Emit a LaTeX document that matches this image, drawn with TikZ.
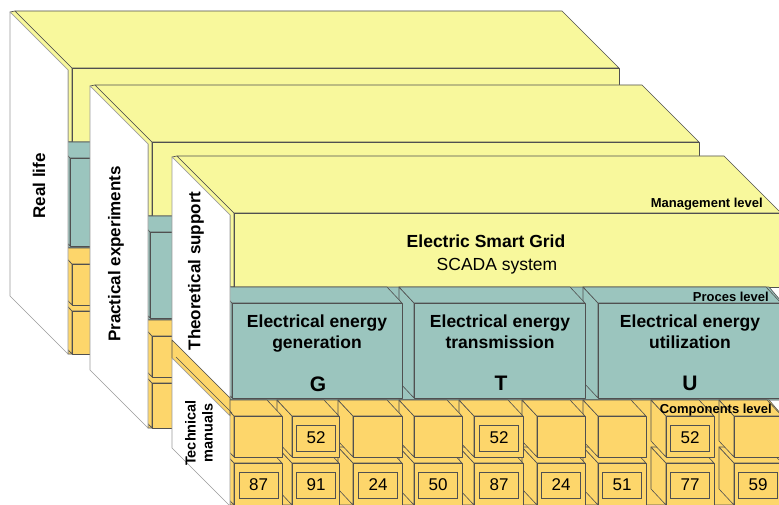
\documentclass[tikz,border=0pt]{standalone}
\usepackage{fontspec}
\setmainfont{Liberation Sans}
\definecolor{ylw}{HTML}{F8F89C}
\definecolor{tea}{HTML}{9BC5BE}
\definecolor{org}{HTML}{FDD66B}
\definecolor{edgec}{HTML}{505050}
\definecolor{pedge}{HTML}{9A9A9A}
\tikzset{
  yface/.style={fill=ylw,draw=edgec,line width=0.6pt,line join=round},
  tface/.style={fill=tea,draw=edgec,line width=0.6pt,line join=round},
  oface/.style={fill=org,draw=edgec,line width=0.6pt,line join=round},
  panel/.style={fill=white,draw=pedge,line width=0.6pt,line join=round},
  numbox/.style={draw=edgec,line width=0.9pt,minimum width=39pt,minimum height=26pt,inner sep=0pt,
     font=\fontsize{17}{20}\selectfont},
  bigb/.style={font=\fontsize{17.5}{21}\selectfont\bfseries,align=center,inner sep=0pt},
  bigr/.style={font=\fontsize{17.5}{21}\selectfont,inner sep=0pt},
  letter/.style={font=\fontsize{21}{24}\selectfont\bfseries,inner sep=0pt},
  lvl/.style={font=\fontsize{13}{15}\selectfont\bfseries,inner sep=0pt,anchor=east},
  side/.style={font=\fontsize{17}{20}\selectfont\bfseries,rotate=90,inner sep=0pt},
  sidesm/.style={font=\fontsize{14.5}{17}\selectfont\bfseries,rotate=90,inner sep=0pt,align=center},
}
% cube: x1 x2 ytop ybot
\newcommand\mycube[4]{%
  \draw[oface] (#1,#3) -- ({#1-15},{#3-16}) -- ({#1-15},{#4-16}) -- (#1,#4) -- cycle;
  \draw[oface] (#1,#3) -- ({#1-15},{#3-16}) -- ({#2-15},{#3-16}) -- (#2,#3) -- cycle;
  \draw[oface] (#1,#3) rectangle (#2,#4);
}
% process box: x1 x2 ytop(back) yfront ybot
\newcommand\mybox[5]{%
  \draw[tface] (#1,#4) -- ({#1-15},#3) -- ({#1-15},{#5-16}) -- (#1,#5) -- cycle;
  \draw[tface] (#1,#4) -- ({#1-15},#3) -- ({#2-15},#3) -- (#2,#4) -- cycle;
  \draw[tface] (#1,#4) rectangle (#2,#5);
}
% block: X0 Y0 TE B
\newcommand\myblock[4]{%
  \pgfmathsetmacro\xa{#1}\pgfmathsetmacro\ya{#2}
  \pgfmathsetmacro\xb{#1+551}
  \pgfmathsetmacro\te{#2+#3}\pgfmathsetmacro\bb{#2+#4}
  % management slab
  \draw[yface] ({\xa-58},{\ya-56}) -- ({\xa-53},{\ya-57}) -- ({\xa+4},\ya) -- ({\xa+4},{\ya+74}) -- (\xa,{\ya+74}) -- (\xa,{\ya+2}) -- cycle;
  \draw[yface] ({\xa-53},{\ya-57}) -- ({\xb-57},{\ya-57}) -- (\xb,\ya) -- ({\xa+4},\ya) -- cycle;
  \draw[yface] ({\xa+4},\ya) rectangle (\xb,{\ya+74});
  % process level
  \draw[tface] (\xa,{\ya+74}) -- ({\xb-12},{\ya+74}) -- (\xb,{\ya+88}) -- (\xb,\te) -- (\xa,\te) -- cycle;
  \mybox{\xa+368}{\xb}{\ya+74}{\ya+90}{\te-2}
  \mybox{\xa+184}{\xa+355}{\ya+74}{\ya+90}{\te-2}
  \mybox{\xa+2}{\xa+172}{\ya+74}{\ya+90}{\te-2}
  % components level
  \draw[oface] (\xa,\te) -- ({\xb-12},\te) -- (\xb,{\te+14}) -- (\xb,\bb) -- (\xa,\bb) -- cycle;
  \foreach \ca/\cb in {504/552,436/484,368/416,307/355,244/293,184/232,123/172,62/109,4/52}{
    \mycube{\xa+\ca}{\xa+\cb}{\te+63}{\bb}
  }
  \foreach \ca/\cb in {504/552,436/484,368/416,307/355,244/293,184/232,123/172,62/109,4/52}{
    \mycube{\xa+\ca}{\xa+\cb}{\te+16}{\te+57}
  }
}
\begin{document}
\begin{tikzpicture}[x=1pt,y=-1pt]
\clip (0,0) rectangle (779,505);
\fill[white] (0,0) rectangle (779,505);

% block 1 : Real life
\myblock{68}{68}{180}{286}
\draw[panel] (10,12) -- (68,70) -- (68,354) -- (10,296) -- cycle;

% block 2 : Practical experiments
\myblock{148}{142}{178}{286}
\draw[panel] (90,86) -- (148,144) -- (148,428) -- (90,370) -- cycle;

% block 3 : Theoretical support
\myblock{230}{213}{187}{292}
\draw[panel] (172,157) -- (230,215) -- (230,398) -- (172,340) -- cycle;
\draw[oface] (172,340) -- (230,398) -- (230,416) -- (172,358) -- cycle;
\draw[edgec,line width=0.6pt] (176,357) -- (232,413);
\draw[panel] (172,358) -- (230,416) -- (230,506) -- (172,448) -- cycle;

% number boxes
\node[numbox] (n52a) at (316,438) {52};
\node[numbox] (n52b) at (499,438) {52};
\node[numbox] (n52c) at (690,438) {52};
\node[numbox] (n87a) at (258.5,485) {87};
\node[numbox] (n91)  at (316,485) {91};
\node[numbox] (n24a) at (378,485) {24};
\node[numbox] (n50)  at (438,485) {50};
\node[numbox] (n87b) at (499,485) {87};
\node[numbox] (n24b) at (561,485) {24};
\node[numbox] (n51)  at (622,485) {51};
\node[numbox] (n77)  at (690,485) {77};
\node[numbox] (n59)  at (758,485) {59};

% texts
\node[bigb] (esg) at (486,241) {Electric Smart Grid};
\node[bigr] (scada) at (497,266) {SCADA system};
\node[bigb] (gen) at (317,334) {Electrical energy\\generation};
\node[bigb] (tra) at (500,332) {Electrical energy\\transmission};
\node[bigb] (uti) at (690,332) {Electrical energy\\utilization};
\node[letter] (lg) at (318,384) {G};
\node[letter] (lt) at (501,383) {T};
\node[letter] (lu) at (690,383) {U};
\node[lvl] (mgl) at (763,204) {Management level};
\node[lvl] (prl) at (769,297) {Proces level};
\node[lvl] (col) at (772,410) {Components level};
\node[side] (rl) at (39,186) {Real life};
\node[side] (pe) at (116,254) {Practical experiments};
\node[side] (ts) at (196,271) {Theoretical support};
\node[sidesm] (tm) at (199,433) {Technical\\manuals};
\end{tikzpicture}
\end{document}
